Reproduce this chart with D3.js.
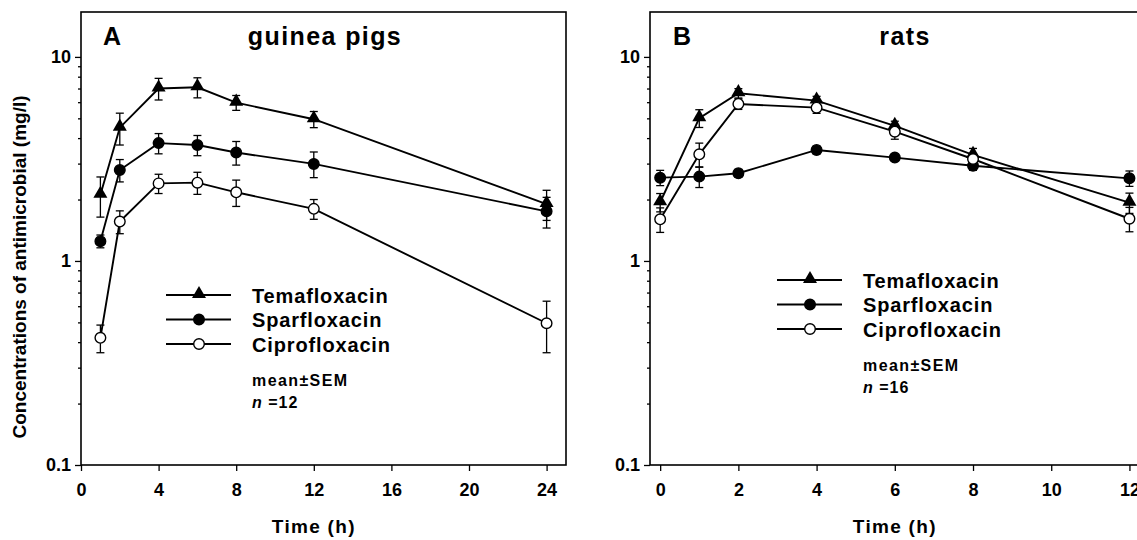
<!DOCTYPE html>
<html>
<head>
<meta charset="utf-8">
<script src="https://cdn.jsdelivr.net/npm/d3@7"></script>
<style>
  body { margin: 0; background: #fff; }
  svg { display: block; }
  text { font-family: "Liberation Sans", Arial, Helvetica, sans-serif; font-weight: bold; fill: #000; }
</style>
</head>
<body>
<div id="chart"></div>
<script>
// panel A : guinea pigs
var timesA = [1, 2, 4, 6, 8, 12, 24];
var temaA = [2.11, 4.5, 7.0, 7.1, 5.97, 4.95, 1.9];
var temaSemA = [0.47, 0.8, 0.85, 0.8, 0.5, 0.45, 0.32];
var sparA = [1.25, 2.79, 3.78, 3.7, 3.4, 2.99, 1.75];
var sparSemA = [0.09, 0.35, 0.43, 0.42, 0.45, 0.43, 0.3];
var ciproA = [0.42, 1.56, 2.4, 2.42, 2.17, 1.8, 0.495];
var ciproSemA = [0.065, 0.2, 0.26, 0.3, 0.32, 0.2, 0.14];

// panel B : rats
var timesB = [0, 1, 2, 4, 6, 8, 12];
var temaB = [1.94, 5.01, 6.64, 6.11, 4.59, 3.31, 1.93];
var temaSemB = [0.2, 0.5, 0.35, 0.3, 0.25, 0.25, 0.22];
var sparB = [2.56, 2.59, 2.69, 3.5, 3.21, 2.93, 2.54];
var sparSemB = [0.22, 0.3, 0.12, 0.15, 0.08, 0.15, 0.22];
var ciproB = [1.6, 3.33, 5.88, 5.64, 4.3, 3.16, 1.61];
var ciproSemB = [0.22, 0.45, 0.35, 0.35, 0.35, 0.2, 0.22];

var drugs = ["Temafloxacin", "Sparfloxacin", "Ciprofloxacin"];
var xTicksA = [0, 4, 8, 12, 16, 20, 24];
var xTicksB = [0, 2, 4, 6, 8, 10, 12];
var yMajor = [0.1, 1, 10];
var yMinor = [0.2, 0.3, 0.4, 0.5, 0.6, 0.7, 0.8, 0.9, 2, 3, 4, 5, 6, 7, 8, 9];

var W = 1137, H = 540;
var svg = d3.select("#chart").append("svg").attr("width", W).attr("height", H);

var y = d3.scaleLog().domain([0.1, 16.6]).range([465, 12]);

function drawPanel(p) {
    var g = svg.append("g");
    var x = p.x;
    var x0 = x.range()[0], x1 = x.range()[1];

    // frame
    g.append("rect")
        .attr("x", x0).attr("y", 12)
        .attr("width", x1 - x0).attr("height", 465 - 12)
        .attr("fill", "none").attr("stroke", "#000").attr("stroke-width", 1.6);

    // y axis, major and minor ticks
    g.append("g").attr("transform", "translate(" + x0 + ",0)")
        .call(d3.axisLeft(y).tickValues(yMajor).tickSize(6).tickPadding(4)
            .tickFormat(function (d) { return d >= 1 ? d3.format("d")(d) : "0.1"; }));
    g.append("g").attr("transform", "translate(" + x0 + ",0)")
        .call(d3.axisLeft(y).tickValues(yMinor).tickSize(3).tickFormat(""));

    // x axis
    g.append("g").attr("transform", "translate(0,465)")
        .call(d3.axisBottom(x).tickValues(p.xTicks).tickSize(6).tickPadding(12));

    g.selectAll(".domain").remove();
    g.selectAll(".tick line").attr("stroke", "#000").attr("stroke-width", 1.3);
    g.selectAll(".tick text").style("font-size", "18px")
        .style("font-family", "'Liberation Sans', Arial, sans-serif").style("font-weight", "bold");

    // titles
    g.append("text").attr("x", p.letterX).attr("y", 45).style("font-size", "25px").text(p.letter);
    g.append("text").attr("x", p.titleX).attr("y", 45).attr("text-anchor", "middle")
        .style("font-size", "25px").style("letter-spacing", "1.4px").text(p.title);
    g.append("text").attr("x", (x(p.xTicks[0]) + x(p.xTicks[p.xTicks.length - 1])) / 2).attr("y", 533)
        .attr("text-anchor", "middle").style("font-size", "19px").style("letter-spacing", "1.3px")
        .text("Time (h)");

    var line = d3.line().x(function (d) { return x(d.t); }).y(function (d) { return y(d.v); });

    p.series.forEach(function (s) {
        var data = s.values.map(function (v, i) { return { t: p.times[i], v: v, e: s.sem[i] }; });
        g.append("path").datum(data)
            .attr("fill", "none").attr("stroke", "#000").attr("stroke-width", 1.9)
            .attr("d", line);
        // error bars
        var eb = g.selectAll(null).data(data).enter().append("g");
        eb.append("line")
            .attr("x1", function (d) { return x(d.t); }).attr("x2", function (d) { return x(d.t); })
            .attr("y1", function (d) { return y(d.v + d.e); }).attr("y2", function (d) { return y(d.v - d.e); })
            .attr("stroke", "#000").attr("stroke-width", 1.3);
        [1, -1].forEach(function (sgn) {
            eb.append("line")
                .attr("x1", function (d) { return x(d.t) - 4; }).attr("x2", function (d) { return x(d.t) + 4; })
                .attr("y1", function (d) { return y(d.v + sgn * d.e); }).attr("y2", function (d) { return y(d.v + sgn * d.e); })
                .attr("stroke", "#000").attr("stroke-width", 1.3);
        });
    });

    // markers on top
    p.series.forEach(function (s) {
        var pts = s.values.map(function (v, i) { return [x(p.times[i]), y(v)]; });
        drawMarkers(g, pts, s.shape);
    });

    // legend
    var lg = g.append("g");
    drugs.forEach(function (name, i) {
        var cy = p.legY + i * 24.5;
        lg.append("line").attr("x1", p.legX).attr("x2", p.legX + 65)
            .attr("y1", cy).attr("y2", cy).attr("stroke", "#000").attr("stroke-width", 1.9);
        drawMarkers(lg, [[p.legX + 33, cy]], p.series[i].shape);
        lg.append("text").attr("x", p.legX + 86).attr("y", cy + 7.5)
            .style("font-size", "20px").style("letter-spacing", "0.85px").text(name);
    });
    lg.append("text").attr("x", p.legX + 86).attr("y", p.legY + 91)
        .style("font-size", "16px").style("letter-spacing", "1.4px").text("mean\u00b1SEM");
    var nt = lg.append("text").attr("x", p.legX + 86).attr("y", p.legY + 113)
        .style("font-size", "16px").style("letter-spacing", "1px");
    nt.append("tspan").style("font-style", "italic").text("n");
    nt.append("tspan").text(" =" + p.n);
}

function drawMarkers(g, pts, shape) {
    if (shape === "triangle") {
        g.selectAll(null).data(pts).enter().append("path")
            .attr("d", d3.symbol().type(d3.symbolTriangle).size(85))
            .attr("transform", function (d) { return "translate(" + d[0] + "," + (d[1] - 1) + ")"; })
            .attr("fill", "#000");
    } else {
        g.selectAll(null).data(pts).enter().append("circle")
            .attr("cx", function (d) { return d[0]; }).attr("cy", function (d) { return d[1]; })
            .attr("r", 5.3)
            .attr("fill", shape === "open" ? "#fff" : "#000")
            .attr("stroke", "#000").attr("stroke-width", 1.4);
    }
}

drawPanel({
    x: d3.scaleLinear().domain([0, 25]).range([81, 566]),
    xTicks: xTicksA, times: timesA,
    letter: "A", letterX: 103, title: "guinea pigs", titleX: 325,
    legX: 166, legY: 295, n: 12,
    series: [
        { values: temaA, sem: temaSemA, shape: "triangle" },
        { values: sparA, sem: sparSemA, shape: "filled" },
        { values: ciproA, sem: ciproSemA, shape: "open" }
    ]
});

drawPanel({
    x: d3.scaleLinear().domain([-0.26, 12.27]).range([650, 1140]),
    xTicks: xTicksB, times: timesB,
    letter: "B", letterX: 673, title: "rats", titleX: 905,
    legX: 777, legY: 280, n: 16,
    series: [
        { values: temaB, sem: temaSemB, shape: "triangle" },
        { values: sparB, sem: sparSemB, shape: "filled" },
        { values: ciproB, sem: ciproSemB, shape: "open" }
    ]
});

// shared y label
svg.append("text")
    .attr("transform", "translate(26,267) rotate(-90)")
    .attr("text-anchor", "middle").style("font-size", "19px")
    .text("Concentrations of antimicrobial (mg/l)");
</script>
</body>
</html>
